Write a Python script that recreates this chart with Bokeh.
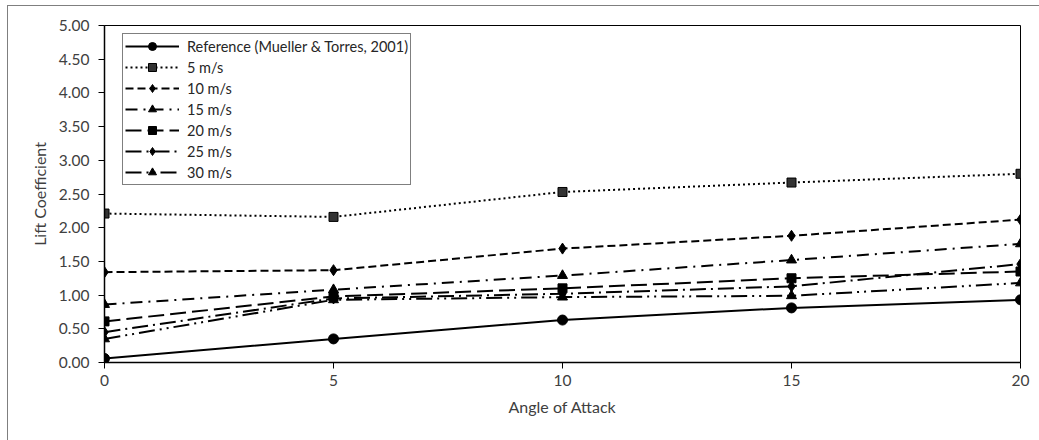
from bokeh.plotting import figure
from bokeh.models import Legend, LegendItem, FixedTicker, NumeralTickFormatter, Range1d
from bokeh.embed import file_html
from bokeh.resources import INLINE

angle = [0, 5, 10, 15, 20]
ref = [0.06, 0.35, 0.63, 0.81, 0.93]
v5 = [2.21, 2.16, 2.53, 2.67, 2.80]
v10 = [1.34, 1.37, 1.69, 1.88, 2.12]
v15 = [0.86, 1.08, 1.29, 1.52, 1.76]
v20 = [0.61, 0.98, 1.10, 1.25, 1.35]
v25 = [0.45, 0.95, 1.02, 1.13, 1.46]
v30 = [0.35, 0.93, 0.97, 0.99, 1.18]

labels = ["Reference (Mueller & Torres, 2001)", "5 m/s", "10 m/s", "15 m/s",
          "20 m/s", "25 m/s", "30 m/s"]
y_ticks = [0, 0.5, 1.0, 1.5, 2.0, 2.5, 3.0, 3.5, 4.0, 4.5, 5.0]
x_ticks = [0, 5, 10, 15, 20]

FONT = "Lato"
TXT = "#404040"

p = figure(width=1032, height=435, output_backend="svg", toolbar_location=None,
           x_range=Range1d(0, 20), y_range=Range1d(0, 5),
           min_border_left=96, min_border_right=20, min_border_top=19,
           min_border_bottom=79)
p.margin = (5, 0, 0, 7)
p.styles = {"border-left": "1px solid #7f7f7f", "border-top": "1px solid #7f7f7f"}
p.xgrid.visible = False
p.ygrid.visible = False
p.outline_line_color = "black"
p.outline_line_width = 1

for ax in (p.xaxis[0], p.yaxis[0]):
    ax.axis_line_color = "black"
    ax.axis_line_width = 1.5
    ax.major_tick_line_color = "black"
    ax.major_tick_in = 0
    ax.major_tick_out = 6
    ax.minor_tick_line_color = None
    ax.major_label_text_font = FONT
    ax.major_label_text_font_size = "15.5px"
    ax.major_label_text_color = TXT
    ax.axis_label_text_font = FONT
    ax.axis_label_text_font_size = "16px"
    ax.axis_label_text_font_style = "normal"
    ax.axis_label_text_color = TXT

p.xaxis.ticker = FixedTicker(ticks=x_ticks)
p.yaxis.ticker = FixedTicker(ticks=y_ticks)
p.yaxis.formatter = NumeralTickFormatter(format="0.00")
p.xaxis.axis_label = "Angle of Attack"
p.yaxis.axis_label = "Lift Coefficient"
p.xaxis.major_label_standoff = 6
p.yaxis.major_label_standoff = 9
p.xaxis.axis_label_standoff = 8
p.yaxis.axis_label_standoff = 7

series = [
    (ref, "solid", "circle", 10, "black"),
    (v5, "2 3", "square", 9, "#333333"),
    (v10, "8 4", "diamond", 11, "black"),
    (v15, "12 6 2 6", "triangle", 10, "black"),
    (v20, "16 6", "square", 9, "black"),
    (v25, "16 5 2 5", "diamond", 11, "black"),
    (v30, "16 5 2 5 2 5", "triangle", 10, "black"),
]

items = []
for (vals, dash, marker, size, fill), lab in zip(series, labels):
    r1 = p.line(angle, vals, line_color="black", line_width=2, line_dash=dash)
    r2 = p.scatter(angle, vals, marker=marker, size=size, fill_color=fill,
                   line_color="black", line_width=1)
    items.append(LegendItem(label=lab, renderers=[r1, r2]))

legend = Legend(items=items, location=(18, 177))
legend.border_line_color = "black"
legend.border_line_width = 1.5
legend.background_fill_alpha = 1
legend.label_text_font = FONT
legend.label_text_font_size = "14.5px"
legend.label_text_color = "#262626"
legend.glyph_width = 54
legend.glyph_height = 20
legend.label_height = 20
legend.spacing = 1
legend.padding = 2
legend.margin = 0
legend.label_standoff = 8
p.add_layout(legend, "center")

open("out.html", "w").write(file_html(p, INLINE))
